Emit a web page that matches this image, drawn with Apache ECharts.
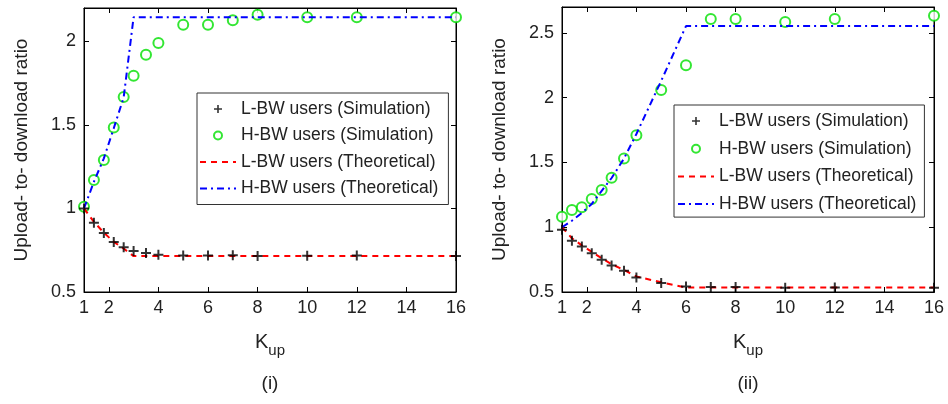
<!DOCTYPE html>
<html><head><meta charset="utf-8">
<script src="https://cdn.jsdelivr.net/npm/echarts@6/dist/echarts.min.js"></script>
<style>html,body{margin:0;padding:0;background:#fff}#c{width:948px;height:404px}</style>
</head><body><div id="c"></div>
<script>
// ---- data ----
const kSim = [1, 1.4, 1.8, 2.2, 2.6, 3, 3.5, 4, 5, 6, 7, 8, 10, 12, 16];
const lSimI = [1.0, 0.915, 0.853, 0.80, 0.768, 0.745, 0.733, 0.723, 0.719, 0.719, 0.72, 0.716, 0.717, 0.719, 0.716];
const hSimI = [1.01, 1.17, 1.29, 1.485, 1.667, 1.795, 1.92, 1.99, 2.1, 2.1, 2.126, 2.16, 2.144, 2.144, 2.144];
const kTheoI = [1, 1.4, 1.8, 2.2, 2.6, 3, 16];
const lTheoI = [1.0, 0.92, 0.855, 0.80, 0.76, 0.715, 0.715];
const hTheoI = [1.0, 1.16, 1.30, 1.48, 1.665, 2.145, 2.145];

const lSimII = [0.98, 0.895, 0.851, 0.80, 0.748, 0.705, 0.664, 0.612, 0.569, 0.543, 0.538, 0.538, 0.533, 0.535, 0.533];
const hSimII = [1.08, 1.133, 1.154, 1.218, 1.287, 1.382, 1.531, 1.71, 2.06, 2.25, 2.607, 2.607, 2.584, 2.607, 2.633];
const kTheoII = [1, 1.4, 1.8, 2.2, 2.6, 3, 3.5, 4, 5, 6, 16];
const lTheoII = [1.0, 0.915, 0.86, 0.81, 0.76, 0.715, 0.67, 0.62, 0.575, 0.535, 0.535];
const hTheoII = [1.0, 1.05, 1.11, 1.18, 1.28, 1.38, 1.53, 1.72, 2.13, 2.553, 2.553];

const xTickLabels = [1, 2, 4, 6, 8, 10, 12, 14, 16];
const yTicksI = [0.5, 1, 1.5, 2];
const yTicksII = [0.5, 1, 1.5, 2, 2.5];
const seriesNames = ['L-BW users (Simulation)', 'H-BW users (Simulation)', 'L-BW users (Theoretical)', 'H-BW users (Theoretical)'];
const panelTitles = ['(i)', '(ii)'];
const yAxisTitle = 'Upload- to- download ratio';
const xAxisMain = 'K';
const xAxisSub = 'up';

// ---- build ----
const FONT = 'Liberation Sans, Arial, sans-serif';
const TXT = '#222';
const GREEN = '#00e000';
const zip = (a, b) => a.map((v, i) => [v, b[i]]);
const PLUS = 'path://M4,0H6V4H10V6H6V10H4V6H0V4H4Z';

const grids = [
  {left: 84, top: 8, width: 372, height: 284},
  {left: 562, top: 7, width: 372, height: 285}
];
const yMax = [2.2, 2.7];
const yTicks = [yTicksI, yTicksII];

function xAx(gi, pos, main) {
  return {
    type: 'value', gridIndex: gi, position: pos, min: 1, max: 16,
    axisLine: {show: true, onZero: false, lineStyle: {color: '#000', width: 1}},
    axisTick: {show: true, inside: true, length: 5, customValues: xTickLabels, lineStyle: {color: '#000'}},
    axisLabel: {show: main, customValues: xTickLabels, fontSize: 18, color: TXT, margin: 7, fontFamily: FONT},
    splitLine: {show: false},
    name: main ? '{a|' + xAxisMain + '}{b|' + xAxisSub + '}' : '',
    nameLocation: 'middle', nameGap: 35,
    nameTextStyle: {rich: {
      a: {fontSize: 20, color: TXT, fontFamily: FONT},
      b: {fontSize: 15, color: TXT, fontFamily: FONT, padding: [16, 0, 0, 0]}
    }}
  };
}
function yAx(gi, pos, main) {
  return {
    type: 'value', gridIndex: gi, position: pos, min: 0.5, max: yMax[gi],
    axisLine: {show: true, onZero: false, lineStyle: {color: '#000', width: 1}},
    axisTick: {show: true, inside: true, length: 5, customValues: yTicks[gi], lineStyle: {color: '#000'}},
    axisLabel: {show: main, customValues: yTicks[gi], fontSize: 18, color: TXT, margin: 8, fontFamily: FONT},
    splitLine: {show: false},
    name: main ? yAxisTitle : '',
    nameLocation: 'middle', nameGap: 53, nameRotate: 90,
    nameTextStyle: {fontSize: 19, color: TXT, fontFamily: FONT}
  };
}

const xAxes = [xAx(0, 'bottom', true), xAx(1, 'bottom', true), xAx(0, 'top', false), xAx(1, 'top', false)];
const yAxes = [yAx(0, 'left', true), yAx(1, 'left', true), yAx(0, 'right', false), yAx(1, 'right', false)];

function panelSeries(idx, lSim, hSim, kT, lT, hT) {
  return [
    {name: seriesNames[0], type: 'scatter', xAxisIndex: idx, yAxisIndex: idx, data: zip(kSim, lSim),
     symbol: PLUS, symbolSize: 10, itemStyle: {color: '#000'}, z: 5},
    {name: seriesNames[1], type: 'scatter', xAxisIndex: idx, yAxisIndex: idx, data: zip(kSim, hSim),
     symbol: 'emptyCircle', symbolSize: 10, itemStyle: {color: GREEN, borderColor: GREEN, borderWidth: 2.2}, z: 3},
    {name: seriesNames[2], type: 'line', xAxisIndex: idx, yAxisIndex: idx, data: zip(kT, lT),
     symbol: 'none', lineStyle: {color: '#ff0000', width: 2, type: [6, 5]}, itemStyle: {color: '#ff0000'}, z: 4},
    {name: seriesNames[3], type: 'line', xAxisIndex: idx, yAxisIndex: idx, data: zip(kT, hT),
     symbol: 'none', lineStyle: {color: '#0000ff', width: 2, type: [7, 4, 2, 4]}, itemStyle: {color: '#0000ff'}, z: 4}
  ];
}

function legendAt(left, top, gap, padding) {
  return {
    orient: 'vertical', left: left, top: top, itemWidth: 36, itemHeight: 8, itemGap: gap,
    padding: padding, backgroundColor: '#fff', borderColor: '#333', borderWidth: 1,
    selectedMode: false,
    data: seriesNames.map((n, i) => i < 2 ? {name: n} : {name: n, itemStyle: {opacity: 0}}),
    textStyle: {fontSize: 17.5, color: TXT, fontFamily: FONT}
  };
}

const chart = echarts.init(document.getElementById('c'), null, {renderer: 'canvas'});
chart.setOption({
  animation: false,
  backgroundColor: '#fff',
  grid: grids.map(g => Object.assign({show: true, borderColor: '#000', borderWidth: 1, backgroundColor: 'transparent'}, g)),
  xAxis: xAxes,
  yAxis: yAxes,
  legend: [legendAt(197, 93, 8.5, [7, 10, 7, 2]), legendAt(674, 105, 9.7, [7, 8, 4, 3])],
  graphic: [
    {type: 'text', x: 270, y: 384, style: {text: panelTitles[0], fontSize: 19, fill: TXT, fontFamily: FONT, align: 'center', verticalAlign: 'middle'}},
    {type: 'text', x: 748, y: 384, style: {text: panelTitles[1], fontSize: 19, fill: TXT, fontFamily: FONT, align: 'center', verticalAlign: 'middle'}}
  ],
  series: [].concat(
    panelSeries(0, lSimI, hSimI, kTheoI, lTheoI, hTheoI),
    panelSeries(1, lSimII, hSimII, kTheoII, lTheoII, hTheoII)
  )
});
</script></body></html>
